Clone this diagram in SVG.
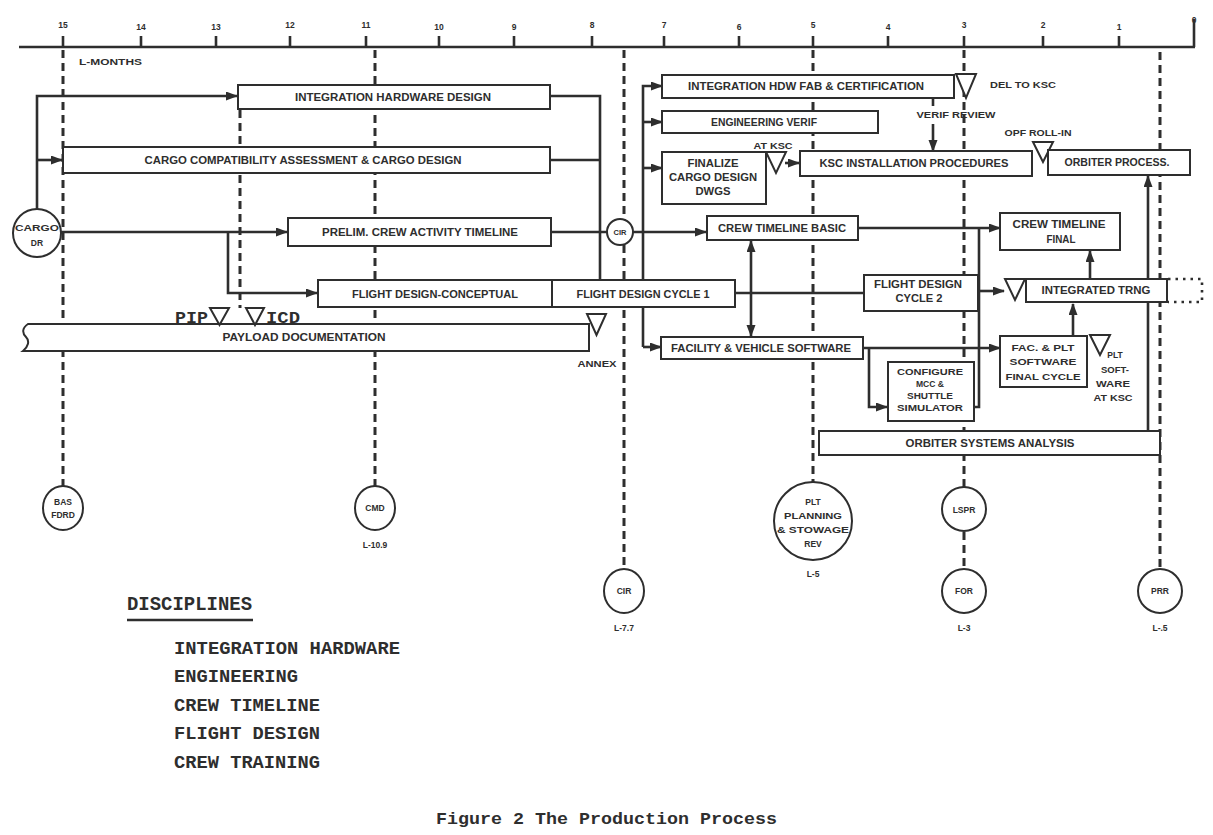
<svg xmlns="http://www.w3.org/2000/svg" width="1213" height="835" viewBox="0 0 1213 835">
<style>
.bg{fill:#fff}
.box{fill:#fff;stroke:#2e2e2e;stroke-width:2}
.ln{fill:none;stroke:#2e2e2e;stroke-width:2.6}
.dash{fill:none;stroke:#2e2e2e;stroke-width:3;stroke-dasharray:8 5}
.dot{fill:none;stroke:#2e2e2e;stroke-width:2.6;stroke-dasharray:2.5 5}
.tri{fill:#fff;stroke:#2e2e2e;stroke-width:2}
.t{font-family:"Liberation Sans",Arial,sans-serif;font-weight:bold;font-size:10px;fill:#2e2e2e;text-anchor:middle}
.t9{font-size:9px}
.ts{font-family:"Liberation Sans",Arial,sans-serif;font-weight:bold;font-size:8.5px;fill:#2e2e2e;text-anchor:middle}
.st{text-anchor:start}
.m{font-family:"Liberation Mono","DejaVu Sans Mono",monospace;font-weight:bold;fill:#2e2e2e}
</style>
<defs>
<marker id="ah" markerUnits="userSpaceOnUse" markerWidth="12" markerHeight="10" refX="11" refY="4.5" orient="auto-start-reverse">
<path d="M0,0 L12,4.5 L0,9 z" fill="#2e2e2e"/>
</marker>
</defs>
<rect class="bg" x="0" y="0" width="1213" height="835"/>

<g id="axis">
<path class="ln" d="M19,47 H1195"/>
<path class="ln" d="M63,36 V47 M141,36 V47 M216,36 V47 M290,36 V47 M366,36 V47 M439,36 V47 M514,36 V47 M592,36 V47 M664,36 V47 M739,36 V47 M813,36 V47 M888,36 V47 M964,36 V47 M1043,36 V47 M1119,36 V47 M1194,19 V47"/>
<g class="ts">
<text x="63" y="28">15</text><text x="141" y="30">14</text><text x="216" y="30">13</text><text x="290" y="28">12</text><text x="366" y="28">11</text><text x="439" y="30">10</text><text x="514" y="30">9</text><text x="592" y="28">8</text><text x="664" y="28">7</text><text x="739" y="30">6</text><text x="813" y="28">5</text><text x="888" y="30">4</text><text x="964" y="28">3</text><text x="1043" y="28">2</text><text x="1119" y="30">1</text><text x="1194" y="23">0</text>
</g>
<text class="ts st" x="79" y="65" textLength="63" lengthAdjust="spacingAndGlyphs">L-MONTHS</text>
</g>

<g id="milestone-lines">
<path class="dash" d="M63,50 V486"/>
<path class="dash" d="M240,110 V308"/>
<path class="dash" d="M375,50 V486"/>
<path class="dash" d="M624,50 V568"/>
<path class="dash" d="M813,50 V482"/>
<path class="dash" d="M964,50 V487 M964,532 V569"/>
<path class="dash" d="M1160,52 V569"/>
</g>

<g id="connectors">
<path class="ln" d="M37,209 V96 H237" marker-end="url(#ah)"/>
<path class="ln" d="M37,160 H62" marker-end="url(#ah)"/>
<path class="ln" d="M61,232 H287" marker-end="url(#ah)"/>
<path class="ln" d="M228,232 V293 H317" marker-end="url(#ah)"/>
<path class="ln" d="M550,96 H600 V281 M550,160 H600"/>
<path class="ln" d="M550,232 H607"/>
<path class="ln" d="M633,232 H706" marker-end="url(#ah)"/>
<path class="ln" d="M643,347 V86 H662" marker-end="url(#ah)"/>
<path class="ln" d="M643,122 H662" marker-end="url(#ah)"/>
<path class="ln" d="M643,168 H662" marker-end="url(#ah)"/>
<path class="ln" d="M643,347 H661" marker-end="url(#ah)"/>
<path class="ln" d="M933,98 V106"/>
<path class="ln" d="M933,124 V151" marker-end="url(#ah)"/>
<path class="ln" d="M785,163 H799" marker-end="url(#ah)"/>
<path class="ln" d="M858,228 H1000" marker-end="url(#ah)"/>
<path class="ln" d="M751,241 V336" marker-start="url(#ah)" marker-end="url(#ah)"/>
<path class="ln" d="M735,293 H864"/>
<path class="ln" d="M979,228 V407 H972"/>
<path class="ln" d="M979,291 H1004" marker-end="url(#ah)"/>
<path class="ln" d="M863,348 H1000" marker-end="url(#ah)"/>
<path class="ln" d="M869,348 V407 H887" marker-end="url(#ah)"/>
<path class="ln" d="M1090,278 V251" marker-end="url(#ah)"/>
<path class="ln" d="M1073,335 V304" marker-end="url(#ah)"/>
<path class="ln" d="M1148,431 V176" marker-end="url(#ah)"/>
<path class="dot" d="M1168,279 H1202 V302 H1168"/>
</g>

<g id="cargo-dr">
<circle class="box" cx="37" cy="233" r="24"/>
<text class="ts" x="37" y="231" textLength="44" lengthAdjust="spacingAndGlyphs">CARGO</text>
<text class="ts" x="37" y="246">DR</text>
</g>

<g id="integration-hardware-design">
<rect class="box" x="238" y="85" width="312" height="24"/>
<text class="t" x="393" y="101" textLength="196" lengthAdjust="spacingAndGlyphs">INTEGRATION HARDWARE DESIGN</text>
</g>

<g id="cargo-compatibility">
<rect class="box" x="63" y="147" width="487" height="26"/>
<text class="t" x="303" y="164" textLength="317" lengthAdjust="spacingAndGlyphs">CARGO COMPATIBILITY ASSESSMENT &amp; CARGO DESIGN</text>
</g>

<g id="prelim-crew">
<rect class="box" x="288" y="218" width="263" height="28"/>
<text class="t" x="420" y="236" textLength="196" lengthAdjust="spacingAndGlyphs">PRELIM. CREW ACTIVITY TIMELINE</text>
</g>

<g id="flight-design-conceptual">
<rect class="box" x="318" y="280" width="234" height="27"/>
<text class="t" x="435" y="298" textLength="166" lengthAdjust="spacingAndGlyphs">FLIGHT DESIGN-CONCEPTUAL</text>
</g>

<g id="flight-design-cycle-1">
<rect class="box" x="552" y="280" width="183" height="27"/>
<text class="t" x="643" y="298" textLength="133" lengthAdjust="spacingAndGlyphs">FLIGHT DESIGN CYCLE 1</text>
</g>

<g id="payload-documentation">
<path class="box" d="M589,324 H28 C22,328 22,333 26,337 C30,341 28,347 23,351 H589 Z"/>
<text class="t" x="304" y="341" textLength="163" lengthAdjust="spacingAndGlyphs">PAYLOAD DOCUMENTATION</text>
<polygon class="tri" points="210,308 229,308 219.5,325"/>
<polygon class="tri" points="246,308 264,308 255,325"/>
<text class="m" x="175" y="323" font-size="16" textLength="33" lengthAdjust="spacingAndGlyphs">PIP</text>
<text class="m" x="266" y="323" font-size="16" textLength="34" lengthAdjust="spacingAndGlyphs">ICD</text>
<polygon class="tri" points="587,314 606,314 596.5,335"/>
<text class="ts" x="597" y="367" textLength="39" lengthAdjust="spacingAndGlyphs">ANNEX</text>
</g>

<g id="cir-review">
<circle class="box" cx="620" cy="232" r="13"/>
<text class="ts" x="620" y="235" style="font-size:7.5px">CIR</text>
</g>

<g id="integration-hdw-fab">
<rect class="box" x="662" y="75" width="292" height="23"/>
<text class="t" x="806" y="90" textLength="236" lengthAdjust="spacingAndGlyphs">INTEGRATION HDW FAB &amp; CERTIFICATION</text>
<polygon class="tri" points="956,74 976,74 966,98"/>
<text class="ts st" x="990" y="88" textLength="66" lengthAdjust="spacingAndGlyphs">DEL TO KSC</text>
<text class="ts" x="956" y="118" textLength="79" lengthAdjust="spacingAndGlyphs">VERIF REVIEW</text>
</g>

<g id="engineering-verif">
<rect class="box" x="662" y="111" width="216" height="22"/>
<text class="t" x="764" y="126" textLength="106" lengthAdjust="spacingAndGlyphs">ENGINEERING VERIF</text>
</g>

<g id="finalize-cargo-design">
<rect class="box" x="662" y="152" width="104" height="52"/>
<text class="t" x="713" y="167" textLength="51" lengthAdjust="spacingAndGlyphs">FINALIZE</text>
<text class="t" x="713" y="181" textLength="88" lengthAdjust="spacingAndGlyphs">CARGO DESIGN</text>
<text class="t" x="713" y="195" textLength="35" lengthAdjust="spacingAndGlyphs">DWGS</text>
<polygon class="tri" points="766,152 786,152 776,173"/>
<text class="ts" x="773" y="149" textLength="39" lengthAdjust="spacingAndGlyphs">AT KSC</text>
</g>

<g id="ksc-installation">
<rect class="box" x="800" y="151" width="232" height="25"/>
<text class="t" x="914" y="167" textLength="189" lengthAdjust="spacingAndGlyphs">KSC INSTALLATION PROCEDURES</text>
<polygon class="tri" points="1033,142 1053,142 1043,162"/>
<text class="ts" x="1038" y="136" textLength="67" lengthAdjust="spacingAndGlyphs">OPF ROLL-IN</text>
</g>

<g id="orbiter-process">
<rect class="box" x="1048" y="150" width="142" height="25"/>
<text class="t" x="1117" y="166" textLength="105" lengthAdjust="spacingAndGlyphs">ORBITER PROCESS.</text>
</g>

<g id="crew-timeline-basic">
<rect class="box" x="707" y="216" width="151" height="24"/>
<text class="t" x="782" y="232" textLength="128" lengthAdjust="spacingAndGlyphs">CREW TIMELINE BASIC</text>
</g>

<g id="crew-timeline-final">
<rect class="box" x="1000" y="213" width="120" height="37"/>
<text class="t" x="1059" y="228" textLength="93" lengthAdjust="spacingAndGlyphs">CREW TIMELINE</text>
<text class="t" x="1061" y="243" textLength="29" lengthAdjust="spacingAndGlyphs">FINAL</text>
</g>

<g id="flight-design-cycle-2">
<rect class="box" x="864" y="275" width="114" height="36"/>
<text class="t" x="918" y="288" textLength="88" lengthAdjust="spacingAndGlyphs">FLIGHT DESIGN</text>
<text class="t" x="919" y="302" textLength="47" lengthAdjust="spacingAndGlyphs">CYCLE 2</text>
</g>

<g id="integrated-trng">
<polygon class="tri" points="1005,279 1025,279 1015,300"/>
<rect class="box" x="1026" y="279" width="141" height="23"/>
<text class="t" x="1096" y="294" textLength="109" lengthAdjust="spacingAndGlyphs">INTEGRATED TRNG</text>
</g>

<g id="facility-vehicle-software">
<rect class="box" x="661" y="337" width="202" height="22"/>
<text class="t" x="761" y="352" textLength="180" lengthAdjust="spacingAndGlyphs">FACILITY &amp; VEHICLE SOFTWARE</text>
</g>

<g id="configure-mcc">
<rect class="box" x="888" y="362" width="86" height="59"/>
<text class="t t9" x="930" y="375" textLength="66" lengthAdjust="spacingAndGlyphs">CONFIGURE</text>
<text class="t t9" x="930" y="387" textLength="28" lengthAdjust="spacingAndGlyphs">MCC &amp;</text>
<text class="t t9" x="930" y="399" textLength="46" lengthAdjust="spacingAndGlyphs">SHUTTLE</text>
<text class="t t9" x="930" y="411" textLength="66" lengthAdjust="spacingAndGlyphs">SIMULATOR</text>
</g>

<g id="fac-plt-software">
<rect class="box" x="1000" y="336" width="87" height="51"/>
<text class="t t9" x="1043" y="351" textLength="63" lengthAdjust="spacingAndGlyphs">FAC. &amp; PLT</text>
<text class="t t9" x="1043" y="365" textLength="67" lengthAdjust="spacingAndGlyphs">SOFTWARE</text>
<text class="t t9" x="1043" y="380" textLength="75" lengthAdjust="spacingAndGlyphs">FINAL CYCLE</text>
<polygon class="tri" points="1090,335 1110,335 1100,355"/>
<text class="ts" x="1115" y="358">PLT</text>
<text class="ts" x="1115" y="373" textLength="28" lengthAdjust="spacingAndGlyphs">SOFT-</text>
<text class="ts" x="1113" y="387" textLength="34" lengthAdjust="spacingAndGlyphs">WARE</text>
<text class="ts" x="1113" y="401" textLength="39" lengthAdjust="spacingAndGlyphs">AT KSC</text>
</g>

<g id="orbiter-systems-analysis">
<rect class="box" x="819" y="431" width="341" height="24"/>
<text class="t" x="990" y="447" textLength="169" lengthAdjust="spacingAndGlyphs">ORBITER SYSTEMS ANALYSIS</text>
</g>

<g id="bas-fdrd">
<ellipse class="box" cx="63" cy="508" rx="20" ry="22"/>
<text class="ts" x="63" y="505">BAS</text>
<text class="ts" x="63" y="518">FDRD</text>
</g>

<g id="cmd">
<ellipse class="box" cx="375" cy="508" rx="20" ry="22"/>
<text class="ts" x="375" y="511">CMD</text>
<text class="ts" x="375" y="548">L-10.9</text>
</g>

<g id="cir-bottom">
<ellipse class="box" cx="624" cy="591" rx="20" ry="22"/>
<text class="ts" x="624" y="594">CIR</text>
<text class="ts" x="624" y="631">L-7.7</text>
</g>

<g id="plt-planning">
<circle class="box" cx="813" cy="521" r="39"/>
<text class="ts" x="813" y="505">PLT</text>
<text class="ts" x="813" y="519" textLength="58" lengthAdjust="spacingAndGlyphs">PLANNING</text>
<text class="ts" x="813" y="533" textLength="72" lengthAdjust="spacingAndGlyphs">&amp; STOWAGE</text>
<text class="ts" x="813" y="547">REV</text>
<text class="ts" x="813" y="577">L-5</text>
</g>

<g id="lspr">
<ellipse class="box" cx="964" cy="509" rx="22" ry="22"/>
<text class="ts" x="964" y="513">LSPR</text>
</g>

<g id="for">
<ellipse class="box" cx="964" cy="591" rx="22" ry="22"/>
<text class="ts" x="964" y="594">FOR</text>
<text class="ts" x="964" y="631">L-3</text>
</g>

<g id="prr">
<ellipse class="box" cx="1160" cy="591" rx="22" ry="22"/>
<text class="ts" x="1160" y="594">PRR</text>
<text class="ts" x="1160" y="631">L-.5</text>
</g>

<g id="disciplines">
<text class="m" x="127" y="610" font-size="20" textLength="125" lengthAdjust="spacingAndGlyphs">DISCIPLINES</text>
<path d="M127,620 H253" stroke="#2e2e2e" stroke-width="2.5"/>
<text class="m" x="174" y="654" font-size="18.5" textLength="226" lengthAdjust="spacingAndGlyphs">INTEGRATION HARDWARE</text>
<text class="m" x="174" y="682" font-size="18.5" textLength="124" lengthAdjust="spacingAndGlyphs">ENGINEERING</text>
<text class="m" x="174" y="711" font-size="18.5" textLength="146" lengthAdjust="spacingAndGlyphs">CREW TIMELINE</text>
<text class="m" x="174" y="739" font-size="18.5" textLength="146" lengthAdjust="spacingAndGlyphs">FLIGHT DESIGN</text>
<text class="m" x="174" y="768" font-size="18.5" textLength="146" lengthAdjust="spacingAndGlyphs">CREW TRAINING</text>
</g>

<text id="caption" class="m" x="436" y="824" font-size="17" textLength="341" lengthAdjust="spacingAndGlyphs">Figure 2 The Production Process</text>
</svg>
